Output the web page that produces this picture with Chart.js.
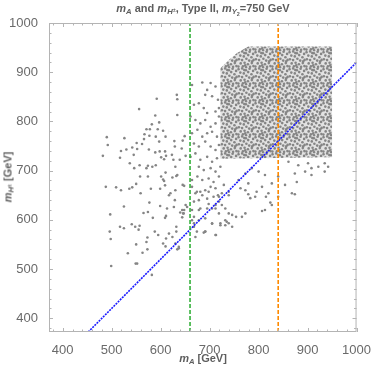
<!DOCTYPE html>
<html>
<head>
<meta charset="utf-8">
<script src="https://cdn.jsdelivr.net/npm/chart.js@4/dist/chart.umd.min.js"></script>
<style>
  html, body { margin: 0; padding: 0; background: #fff; }
  #wrap { position: relative; width: 374px; height: 367px; font-family: "Liberation Sans", Arial, sans-serif; }
  #plot { position: absolute; left: 0; top: 0; }
  .lbl { position: absolute; color: #5e5e5e; font-weight: bold; font-size: 11px; white-space: nowrap; line-height: 1; }
  .lbl sub { font-size: 0.7em; vertical-align: -0.3em; }
  .lbl sup { font-size: 0.7em; vertical-align: 0.4em; }
  #title { left: 203px; top: 3px; transform: translateX(-50%); }
  #xlab { left: 203px; top: 353px; transform: translateX(-50%); }
  #ylab { left: 9px; top: 177px; transform: translate(-50%, -50%) rotate(-90deg); }
</style>
</head>
<body>
<div id="wrap">
  <canvas id="plot" width="374" height="367"></canvas>
  <div class="lbl" id="title"><i>m</i><sub><i>A</i></sub> and <i>m</i><sub><i>H</i><sup>±</sup></sub>, Type II, <i>m</i><sub><i>Y</i><sub>2</sub></sub>=750 GeV</div>
  <div class="lbl" id="xlab"><i>m</i><sub><i>A</i></sub> [GeV]</div>
  <div class="lbl" id="ylab"><i>m</i><sub><i>H</i><sup>±</sup></sub> [GeV]</div>
</div>
<script>
// scan points (m_A, m_H± in GeV)
const scatterMA = [
  592, 633, 634, 556, 589, 634, 597, 582, 571, 578, 594, 605, 567, 566, 577, 590, 597, 610, 490, 492,
  526, 482, 519, 517, 530, 542, 551, 552, 562, 576, 589, 598, 609, 607, 628, 629, 643, 649, 645, 651,
  537, 545, 546, 557, 571, 574, 583, 590, 601, 611, 623, 626, 630, 639, 624, 610, 601, 605, 607, 632,
  634, 558, 574, 488, 509, 519, 536, 542, 550, 559, 580, 599, 609, 617, 620, 630, 629, 645, 648, 525,
  577, 599, 613, 627, 584, 574, 565, 611, 609, 497, 517, 525, 541, 548, 555, 557, 496, 498, 588, 595,
  617, 611, 632, 624, 632, 644, 648, 646, 573, 571, 550, 533, 563, 573, 605, 610, 630, 634, 637, 499,
  549, 552, 582, 654, 640,
  664, 685, 695, 691, 702, 712, 705, 717, 668, 678, 688, 695, 712, 719, 661, 671, 681, 691, 702, 712,
  719, 664, 675, 685, 695, 705, 715, 668, 678, 691, 702, 712, 719, 661, 671, 681, 695, 705, 715, 678,
  688, 702, 712, 722, 664, 675, 685, 698, 708, 719, 664, 671, 681, 691, 702, 712, 729, 668, 678, 695,
  708, 719, 664, 681, 695, 712, 725, 668, 678, 691, 705, 722, 732, 668, 691, 712, 671,
  861, 881, 901, 908, 922, 895, 874, 840, 813, 800, 786, 773, 759, 779, 807, 827, 854, 878, 908, 935,
  935, 942, 773, 793, 820, 840, 868, 763, 739, 719,
  674, 685, 698, 717, 725, 739, 779, 783, 796, 815, 824, 827, 874, 807, 813, 773, 766, 754, 746, 739,
  732, 719, 705, 712, 698, 678, 668, 705, 722, 735, 739, 746, 732, 664, 674, 688, 691, 713, 647, 644,
  651, 637
];
const scatterMH = [
  846, 854, 845, 825, 812, 813, 798, 794, 784, 784, 784, 781, 774, 764, 771, 769, 759, 769, 768, 752,
  766, 730, 740, 726, 743, 747, 756, 744, 754, 743, 737, 739, 739, 723, 760, 749, 745, 770, 761, 730,
  715, 732, 705, 711, 705, 710, 708, 711, 727, 730, 732, 722, 708, 722, 686, 696, 688, 682, 679, 689,
  691, 688, 688, 667, 666, 660, 663, 666, 673, 654, 663, 663, 670, 650, 654, 660, 640, 671, 669, 627,
  635, 628, 623, 626, 604, 616, 614, 608, 604, 611, 586, 583, 591, 586, 580, 588, 576, 561, 576, 569,
  572, 562, 576, 565, 586, 605, 620, 613, 564, 555, 550, 532, 533, 540, 552, 546, 552, 540, 545, 506,
  511, 511, 488, 626, 615,
  874, 879, 864, 854, 878, 871, 851, 844, 834, 837, 827, 817, 820, 827, 810, 803, 796, 803, 789, 796,
  810, 776, 783, 769, 776, 779, 769, 755, 749, 759, 749, 742, 752, 728, 735, 722, 728, 718, 725, 708,
  701, 705, 698, 708, 681, 688, 681, 684, 677, 688, 667, 654, 657, 660, 667, 664, 671, 637, 640, 643,
  647, 637, 620, 623, 623, 623, 630, 606, 599, 603, 592, 589, 599, 586, 576, 569, 565,
  718, 711, 715, 705, 708, 698, 694, 688, 691, 698, 705, 694, 681, 674, 667, 674, 671, 677, 691, 698,
  715, 708, 660, 647, 654, 647, 654, 664, 650, 647,
  657, 650, 657, 650, 654, 657, 652, 644, 657, 647, 635, 630, 652, 618, 620, 613, 606, 606, 610, 613,
  623, 613, 623, 630, 632, 620, 593, 593, 593, 596, 593, 586, 589, 599, 576, 574, 576, 569, 613, 620,
  630, 542
];
// outline of the dense block of scan points
const blockMA = [779, 950, 950, 722, 722, 739, 756, 779];
const blockMH = [952, 952, 727, 724, 908, 925, 939, 952];
// reference lines
const diagMA = [452, 1000];
const diagMH = [372, 920];
const greenMA = 660;
const orangeMA = 840;
const axisMin = 372, axisMax = 1000;
const tickValues = [400, 500, 600, 700, 800, 900, 1000];

const pts = scatterMA.map((x, i) => ({ x, y: scatterMH[i] }));
const block = blockMA.map((x, i) => ({ x, y: blockMH[i] }));
const vline = (x) => [{ x, y: axisMin }, { x, y: axisMax }];

// speckle texture for the dense block (hand-placed dots in a 17px tile)
const speckle = (() => {
  const n = 17;
  const c = document.createElement('canvas');
  c.width = n; c.height = n;
  const g = c.getContext('2d');
  g.fillStyle = '#e2e2e2';
  g.fillRect(0, 0, n, n);
  g.fillStyle = '#858585';
  const dots = [
    [0.5,1.2],[4.2,0.4],[7.9,2.3],[11.6,0.8],[15.1,2.9],[2.3,4.6],[5.8,5.4],[10.2,4.1],[13.4,6.2],
    [0.9,8.3],[4.1,9.1],[8.4,7.7],[11.2,9.6],[15.6,8.9],[2.7,12.4],[6.6,11.8],[9.9,13.2],[13.8,12.1],
    [0.4,15.6],[4.9,15.3],[8.1,16.2],[12.1,15.8],[15.4,15.1],[6.3,2.1],[14.2,10.4],[7.2,14.4]
  ];
  dots.forEach(([dx, dy]) => {
    for (const ox of [-n, 0, n]) for (const oy of [-n, 0, n]) {
      g.beginPath(); g.arc(dx + ox, dy + oy, 1.3, 0, Math.PI * 2); g.fill();
    }
  });
  return g.createPattern(c, 'repeat');
})();

// Mathematica-style frame with inward ticks on all four sides
const frameTicks = {
  id: 'frameTicks',
  afterDraw(chart) {
    const { ctx, chartArea: a, scales: { x, y } } = chart;
    ctx.save();
    ctx.strokeStyle = '#b4b4b4';
    ctx.lineWidth = 1;
    ctx.strokeRect(a.left + 0.5, a.top + 0.5, a.right - a.left - 1, a.bottom - a.top - 1);
    ctx.beginPath();
    for (let v = 380; v <= 1000; v += 20) {
      const len = v % 100 === 0 ? 4 : 2.5;
      const px = Math.round(x.getPixelForValue(v)) + 0.5;
      ctx.moveTo(px, a.bottom); ctx.lineTo(px, a.bottom - len);
      ctx.moveTo(px, a.top); ctx.lineTo(px, a.top + len);
      const py = Math.round(y.getPixelForValue(v)) + 0.5;
      ctx.moveTo(a.left, py); ctx.lineTo(a.left + len, py);
      ctx.moveTo(a.right, py); ctx.lineTo(a.right - len, py);
    }
    ctx.stroke();
    ctx.restore();
  }
};

const tickFont = { family: '"Liberation Sans", Arial, sans-serif', size: 13 };

new Chart(document.getElementById('plot'), {
  type: 'scatter',
  data: {
    datasets: [
      { type: 'line', data: vline(greenMA), borderColor: '#34b03a', borderWidth: 1.6, borderDash: [4, 2], pointRadius: 0, order: 0 },
      { type: 'line', data: vline(orangeMA), borderColor: '#ff8a00', borderWidth: 1.6, borderDash: [4, 2], pointRadius: 0, order: 0 },
      { type: 'line', data: diagMA.map((x, i) => ({ x, y: diagMH[i] })), borderColor: '#1a1aff', borderWidth: 1.6, borderDash: [2, 1], pointRadius: 0, order: 0 },
      { data: pts, backgroundColor: '#858585', borderWidth: 0, pointRadius: 1.3, order: 2 },
      { type: 'line', data: block, showLine: true, fill: 'shape', backgroundColor: speckle, borderColor: 'rgba(0,0,0,0)', borderWidth: 0, pointRadius: 0, tension: 0, order: 3 }
    ]
  },
  options: {
    responsive: false,
    animation: false,
    devicePixelRatio: 1,
    layout: { padding: { top: 23, right: 16, left: 0, bottom: 0 } },
    plugins: { legend: { display: false }, tooltip: { enabled: false } },
    scales: {
      x: {
        type: 'linear', min: axisMin, max: axisMax,
        afterFit: (s) => { s.height = 35; },
        afterBuildTicks: (s) => { s.ticks = tickValues.map(value => ({ value })); },
        grid: { display: false }, border: { display: false },
        ticks: { color: '#6a6a6a', font: tickFont, padding: 3, maxRotation: 0, callback: (v) => String(v) }
      },
      y: {
        type: 'linear', min: axisMin, max: axisMax,
        afterFit: (s) => { s.width = 49; },
        afterBuildTicks: (s) => { s.ticks = tickValues.map(value => ({ value })); },
        grid: { display: false }, border: { display: false },
        ticks: { color: '#6a6a6a', font: tickFont, padding: 3, callback: (v) => String(v) }
      }
    }
  },
  plugins: [frameTicks]
});
</script>
</body>
</html>
